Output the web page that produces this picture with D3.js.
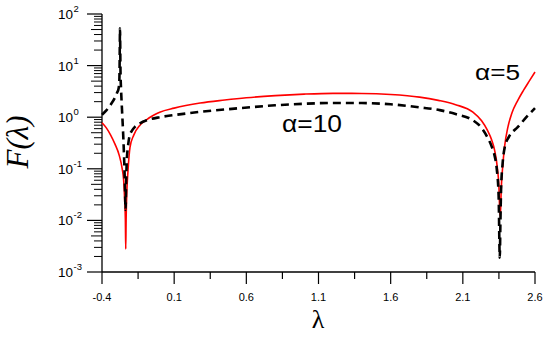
<!DOCTYPE html>
<html><head><meta charset="utf-8">
<script src="https://cdn.jsdelivr.net/npm/d3@7"></script>
<style>body{margin:0;background:#fff}svg{display:block}</style>
</head><body>
<svg id="c" width="550" height="338"></svg>
<script>
// ---- data ----
const xTicks = [-0.4, 0.1, 0.6, 1.1, 1.6, 2.1, 2.6];
const xTickLabels = ["-0.4", "0.1", "0.6", "1.1", "1.6", "2.1", "2.6"];
const yExponents = [2, 1, 0, -1, -2, -3];

const redLambda = [-0.40,-0.37,-0.34,-0.31,-0.28,-0.26,-0.25,-0.243,-0.238,-0.2355,-0.233,-0.228,-0.22,-0.206,-0.18,-0.137,-0.09,-0.04,0.0,0.1,0.28,0.45,0.6,0.8,1.0,1.2,1.4,1.6,1.8,1.93,2.05,2.17,2.23,2.27,2.30,2.32,2.34,2.35,2.356,2.36,2.366,2.375,2.39,2.41,2.44,2.48,2.52,2.56,2.60];
const redF      = [0.78,0.62,0.45,0.30,0.18,0.10,0.06,0.025,0.010,0.0028,0.010,0.035,0.09,0.26,0.45,0.70,0.90,1.10,1.25,1.50,1.88,2.15,2.38,2.62,2.80,2.90,2.88,2.75,2.45,2.12,1.75,1.25,0.85,0.56,0.36,0.23,0.10,0.045,0.015,0.012,0.04,0.10,0.28,0.60,1.20,2.10,3.30,5.00,7.50];

const blackLambda = [-0.40,-0.37,-0.34,-0.31,-0.295,-0.285,-0.28,-0.278,-0.2765,-0.275,-0.2735,-0.272,-0.268,-0.262,-0.255,-0.248,-0.242,-0.2365,-0.233,-0.228,-0.22,-0.21,-0.19,-0.17,-0.137,-0.09,0.0,0.1,0.28,0.5,0.8,1.0,1.2,1.4,1.6,1.8,1.94,2.05,2.17,2.23,2.27,2.30,2.32,2.335,2.348,2.356,2.36,2.365,2.375,2.39,2.42,2.48,2.54,2.60];
const blackF      = [1.12,1.35,1.75,2.40,3.00,3.60,5.0,10.0,30.0,53.0,20.0,8.0,3.5,1.5,0.60,0.20,0.06,0.016,0.05,0.15,0.27,0.42,0.56,0.66,0.76,0.87,1.00,1.10,1.27,1.45,1.70,1.82,1.89,1.88,1.78,1.55,1.37,1.15,0.87,0.62,0.41,0.27,0.18,0.10,0.03,0.0019,0.008,0.04,0.12,0.26,0.42,0.64,1.00,1.50];

const labelA5 = "\u03b1=5";
const labelA10 = "\u03b1=10";

// ---- chart ----
const svg = d3.select("#c");
const x = d3.scaleLinear().domain([-0.4, 2.6]).range([102, 535]);
const y = d3.scaleLog().domain([1e-3, 1e2]).range([272, 14]);

// x axis
const g = svg.append("g");
g.append("line").attr("x1", x(-0.4)).attr("x2", x(2.6)).attr("y1", y(1e-3)).attr("y2", y(1e-3))
  .attr("stroke", "#000").attr("stroke-width", 1.3);
const xMinor = d3.range(0, 13).map(i => -0.4 + i * 0.25);
g.selectAll(".xt").data(xMinor).join("line")
  .attr("x1", d => x(d)).attr("x2", d => x(d))
  .attr("y1", y(1e-3)).attr("y2", (d, i) => y(1e-3) + (i % 2 === 0 ? 12 : 7))
  .attr("stroke", "#000").attr("stroke-width", 1.2);
g.selectAll(".xl").data(xTicks).join("text")
  .attr("x", d => x(d)).attr("y", 301)
  .attr("text-anchor", "middle")
  .attr("font-family", "Liberation Sans, Arial, sans-serif").attr("font-size", 11)
  .text((d, i) => xTickLabels[i]);

// y axis
g.append("line").attr("x1", x(-0.4)).attr("x2", x(-0.4)).attr("y1", y(1e2)).attr("y2", y(1e-3))
  .attr("stroke", "#000").attr("stroke-width", 1.3);
const yMinor = [];
for (let e = -3; e < 2; e++) for (let m = 2; m <= 9; m++) yMinor.push({v: m * Math.pow(10, e), m});
g.selectAll(".ym").data(yMinor).join("line")
  .attr("x1", x(-0.4) - 0).attr("x2", d => x(-0.4) - (d.m === 5 ? 11 : 8))
  .attr("y1", d => y(d.v)).attr("y2", d => y(d.v))
  .attr("stroke", "#000").attr("stroke-width", 1);
g.selectAll(".yM").data(yExponents).join("line")
  .attr("x1", x(-0.4)).attr("x2", x(-0.4) - 15)
  .attr("y1", d => y(Math.pow(10, d))).attr("y2", d => y(Math.pow(10, d)))
  .attr("stroke", "#000").attr("stroke-width", 1.2);
const yl = g.selectAll(".yl").data(yExponents).join("text")
  .attr("x", 73).attr("y", d => y(Math.pow(10, d)) + 5)
  .attr("text-anchor", "end")
  .attr("font-family", "Liberation Sans, Arial, sans-serif").attr("font-size", 13.5)
  .text("10");
g.selectAll(".ye").data(yExponents).join("text")
  .attr("x", 73.5).attr("y", d => y(Math.pow(10, d)) - 2)
  .attr("font-family", "Liberation Sans, Arial, sans-serif").attr("font-size", 9.5)
  .text(d => d);

// curves
const line = d3.line().x(d => x(d[0])).y(d => y(d[1])).curve(d3.curveMonotoneX);
const redData = redLambda.map((l, i) => [l, redF[i]]);
const blackData = blackLambda.map((l, i) => [l, blackF[i]]);
svg.append("path").attr("d", line(redData)).attr("fill", "none")
  .attr("stroke", "#ff0000").attr("stroke-width", 1.6);
svg.append("path").attr("d", line(blackData)).attr("fill", "none")
  .attr("stroke", "#000").attr("stroke-width", 2.6).attr("stroke-dasharray", "8,5");

// labels
svg.append("text").attr("x", 475).attr("y", 80)
  .attr("font-family", "Liberation Sans, Arial, sans-serif").attr("font-size", 22)
  .attr("textLength", 45).attr("lengthAdjust", "spacingAndGlyphs").text(labelA5);
svg.append("text").attr("x", 282).attr("y", 132)
  .attr("font-family", "Liberation Sans, Arial, sans-serif").attr("font-size", 23)
  .attr("textLength", 60).attr("lengthAdjust", "spacingAndGlyphs").text(labelA10);

svg.append("text").attr("x", 318).attr("y", 328).attr("text-anchor", "middle")
  .attr("font-family", "Liberation Serif, Times New Roman, serif").attr("font-size", 26)
  .text("\u03bb");
svg.append("text").attr("transform", "translate(28,142) rotate(-90)").attr("text-anchor", "middle")
  .attr("font-family", "Liberation Serif, Times New Roman, serif").attr("font-style", "italic").attr("font-size", 31)
  .text("F(\u03bb)");
</script>
</body></html>
